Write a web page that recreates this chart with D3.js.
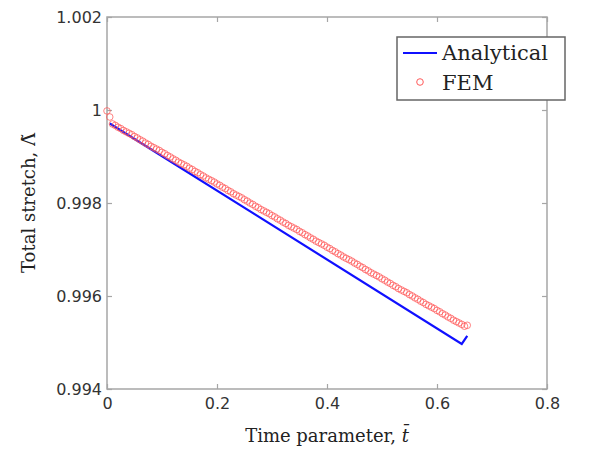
<!DOCTYPE html>
<html>
<head>
<meta charset="utf-8">
<script src="https://cdn.jsdelivr.net/npm/d3@7"></script>
<style>
  body { margin: 0; background: #fff; }
</style>
</head>
<body>
<div id="chart"></div>
<script>
const xTicks = [0, 0.2, 0.4, 0.6, 0.8];
const yTicks = [0.994, 0.996, 0.998, 1, 1.002];
const yTickLabels = ["0.994", "0.996", "0.998", "1", "1.002"];

// analytical solution (blue line)
const analyticalT = [0.005, 0.645, 0.655];
const analyticalStretch = [0.99971, 0.99497, 0.99514];

// FEM results (red circles)
const femT = [
  0, 0.005, 0.01, 0.015, 0.02, 0.025, 0.03, 0.035, 0.04, 0.045,
  0.05, 0.055, 0.06, 0.065, 0.07, 0.075, 0.08, 0.085, 0.09, 0.095,
  0.1, 0.105, 0.11, 0.115, 0.12, 0.125, 0.13, 0.135, 0.14, 0.145,
  0.15, 0.155, 0.16, 0.165, 0.17, 0.175, 0.18, 0.185, 0.19, 0.195,
  0.2, 0.205, 0.21, 0.215, 0.22, 0.225, 0.23, 0.235, 0.24, 0.245,
  0.25, 0.255, 0.26, 0.265, 0.27, 0.275, 0.28, 0.285, 0.29, 0.295,
  0.3, 0.305, 0.31, 0.315, 0.32, 0.325, 0.33, 0.335, 0.34, 0.345,
  0.35, 0.355, 0.36, 0.365, 0.37, 0.375, 0.38, 0.385, 0.39, 0.395,
  0.4, 0.405, 0.41, 0.415, 0.42, 0.425, 0.43, 0.435, 0.44, 0.445,
  0.45, 0.455, 0.46, 0.465, 0.47, 0.475, 0.48, 0.485, 0.49, 0.495,
  0.5, 0.505, 0.51, 0.515, 0.52, 0.525, 0.53, 0.535, 0.54, 0.545,
  0.55, 0.555, 0.56, 0.565, 0.57, 0.575, 0.58, 0.585, 0.59, 0.595,
  0.6, 0.605, 0.61, 0.615, 0.62, 0.625, 0.63, 0.635, 0.64, 0.645,
  0.65, 0.655
];
const femStretch = [
  0.99998, 0.99985, 0.99970, 0.99967, 0.99963, 0.99960, 0.99956, 0.99953, 0.99950, 0.99947,
  0.99943, 0.99940, 0.99936, 0.99933, 0.99929, 0.99926, 0.99922, 0.99919, 0.99916, 0.99913,
  0.99909, 0.99906, 0.99902, 0.99899, 0.99895, 0.99892, 0.99888, 0.99885, 0.99882, 0.99879,
  0.99875, 0.99872, 0.99868, 0.99865, 0.99861, 0.99858, 0.99854, 0.99851, 0.99848, 0.99845,
  0.99841, 0.99838, 0.99834, 0.99831, 0.99827, 0.99824, 0.99820, 0.99817, 0.99814, 0.99811,
  0.99807, 0.99804, 0.99800, 0.99797, 0.99793, 0.99790, 0.99786, 0.99783, 0.99780, 0.99777,
  0.99773, 0.99770, 0.99766, 0.99763, 0.99759, 0.99756, 0.99752, 0.99749, 0.99746, 0.99743,
  0.99739, 0.99736, 0.99732, 0.99729, 0.99725, 0.99722, 0.99718, 0.99715, 0.99712, 0.99709,
  0.99705, 0.99702, 0.99698, 0.99695, 0.99691, 0.99688, 0.99684, 0.99681, 0.99678, 0.99675,
  0.99671, 0.99668, 0.99664, 0.99661, 0.99657, 0.99654, 0.99650, 0.99647, 0.99644, 0.99641,
  0.99637, 0.99634, 0.99630, 0.99627, 0.99623, 0.99620, 0.99616, 0.99613, 0.99610, 0.99607,
  0.99603, 0.99600, 0.99596, 0.99593, 0.99589, 0.99586, 0.99582, 0.99579, 0.99576, 0.99573,
  0.99569, 0.99566, 0.99562, 0.99559, 0.99555, 0.99552, 0.99548, 0.99545, 0.99542, 0.99539,
  0.99535, 0.99537
];

const width = 597, height = 460;
const margin = { top: 17, right: 50, bottom: 71, left: 107 };
const w = width - margin.left - margin.right;
const h = height - margin.top - margin.bottom;

const svg = d3.select("#chart")
  .append("svg")
  .attr("width", width)
  .attr("height", height);

const g = svg.append("g")
  .attr("transform", `translate(${margin.left},${margin.top})`);

const x = d3.scaleLinear().domain([0, 0.8]).range([0, w]);
const y = d3.scaleLinear().domain([0.994, 1.002]).range([h, 0]);

const axisColor = "#a6a6a6";
const tickFont = "'DejaVu Sans', Verdana, sans-serif";
const serif = "'DejaVu Serif', serif";

// frame
g.append("rect")
  .attr("width", w)
  .attr("height", h)
  .attr("fill", "none")
  .attr("stroke", axisColor)
  .attr("stroke-width", 1.5);

// axes (inward ticks)
const styleAxis = (sel) => {
  sel.select(".domain").remove();
  sel.selectAll(".tick line").attr("stroke", axisColor).attr("stroke-width", 1.2);
  sel.selectAll(".tick text")
    .attr("fill", "#333")
    .style("font-family", tickFont)
    .style("font-size", "16px");
};

g.append("g")
  .attr("transform", `translate(0,${h})`)
  .call(d3.axisBottom(x).tickValues(xTicks).tickSize(-5).tickPadding(9)
    .tickFormat(d3.format("")))
  .call(styleAxis);

g.append("g")
  .call(d3.axisTop(x).tickValues(xTicks).tickSize(-5).tickFormat(""))
  .call(styleAxis);

g.append("g")
  .call(d3.axisLeft(y).tickValues(yTicks).tickSize(-5).tickPadding(5)
    .tickFormat((d, i) => yTickLabels[i]))
  .call(styleAxis);

g.append("g")
  .attr("transform", `translate(${w},0)`)
  .call(d3.axisRight(y).tickValues(yTicks).tickSize(-5).tickFormat(""))
  .call(styleAxis);

// analytical line
const line = d3.line().x(d => x(d[0])).y(d => y(d[1]));
g.append("path")
  .datum(d3.zip(analyticalT, analyticalStretch))
  .attr("d", line)
  .attr("fill", "none")
  .attr("stroke", "#1010ff")
  .attr("stroke-width", 2.2);

// FEM circles
g.append("g")
  .selectAll("circle")
  .data(d3.zip(femT, femStretch))
  .join("circle")
  .attr("cx", d => x(d[0]))
  .attr("cy", d => y(d[1]))
  .attr("r", 3.3)
  .attr("fill", "none")
  .attr("stroke", "#ff5a5a")
  .attr("stroke-opacity", 0.75)
  .attr("stroke-width", 1);

// axis titles
const xt = svg.append("text")
  .attr("x", margin.left + w / 2)
  .attr("y", 442)
  .attr("text-anchor", "middle")
  .style("font-family", serif)
  .style("font-size", "18px")
  .attr("fill", "#222");
xt.append("tspan").text("Time parameter, ");
xt.append("tspan").style("font-style", "italic").text("t\u0304");

const yt = svg.append("text")
  .attr("transform", `translate(35,${margin.top + h / 2}) rotate(-90)`)
  .attr("text-anchor", "middle")
  .style("font-family", serif)
  .style("font-size", "18px")
  .attr("fill", "#222");
yt.append("tspan").text("Total stretch, ");
yt.append("tspan").text("\u039B\u0303");

// legend
const lg = svg.append("g").attr("transform", "translate(397,37)");
lg.append("rect")
  .attr("width", 168)
  .attr("height", 63)
  .attr("fill", "#fff")
  .attr("stroke", "#666")
  .attr("stroke-width", 1.5);
lg.append("line")
  .attr("x1", 6).attr("x2", 40)
  .attr("y1", 16).attr("y2", 16)
  .attr("stroke", "#1010ff")
  .attr("stroke-width", 2.2);
lg.append("text")
  .attr("x", 45).attr("y", 23)
  .style("font-family", serif)
  .style("font-size", "21px")
  .attr("fill", "#222")
  .text("Analytical");
lg.append("circle")
  .attr("cx", 23).attr("cy", 45)
  .attr("r", 3.3)
  .attr("fill", "none")
  .attr("stroke", "#ff5a5a")
  .attr("stroke-width", 1);
lg.append("text")
  .attr("x", 45).attr("y", 53)
  .style("font-family", serif)
  .style("font-size", "21px")
  .attr("fill", "#222")
  .text("FEM");
</script>
</body>
</html>
